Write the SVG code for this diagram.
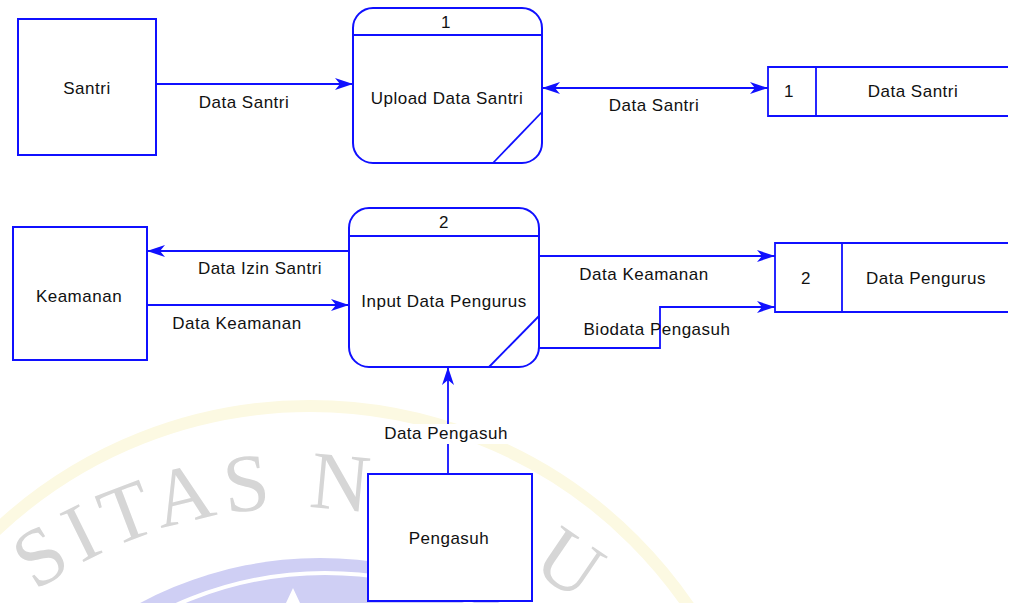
<svg xmlns="http://www.w3.org/2000/svg" width="1017" height="603" viewBox="0 0 1017 603">
<defs>
<style>
.box{fill:#fff;stroke:#1010ff;stroke-width:2}
.ln{fill:none;stroke:#1010ff;stroke-width:1.8}
.t{font-family:"Liberation Sans",Arial,sans-serif;font-size:17px;fill:#111;text-anchor:middle;dominant-baseline:central;letter-spacing:0.5px}
.wm{font-family:"Liberation Serif","Times New Roman",serif;font-size:82px;fill:#d6d6d6;letter-spacing:8px}
</style>
<marker id="ah" markerUnits="userSpaceOnUse" markerWidth="20" markerHeight="14" refX="18" refY="7" orient="auto-start-reverse" viewBox="0 0 20 14">
<path d="M0,1 L18,7 L0,13 L5,7 z" fill="#1010ff"/>
</marker>
<path id="arc" d="M 5.5 615 A 458 458 0 0 1 651 672"/>
</defs>
<rect width="1017" height="603" fill="#fff"/>
<g id="watermark">
<circle cx="310" cy="864" r="458" fill="none" stroke="#fcf9e2" stroke-width="12"/>
<circle cx="320" cy="940" r="382" fill="#cfcff4"/>
<circle cx="325" cy="935" r="362" fill="none" stroke="#fff" stroke-width="4"/>
<polygon points="293,588 300,603 286,603" fill="#fff"/>
<text class="wm"><textPath href="#arc" startOffset="38">SITAS N</textPath></text>
<text class="wm"><textPath href="#arc" startOffset="560">U</textPath></text>
</g>
<g id="connectors">
<line class="ln" x1="156" y1="84" x2="353" y2="84" marker-end="url(#ah)"/>
<text class="t" x="244" y="102">Data Santri</text>
<line class="ln" x1="542" y1="88" x2="768" y2="88" marker-start="url(#ah)" marker-end="url(#ah)"/>
<text class="t" x="654" y="105">Data Santri</text>
<line class="ln" x1="349" y1="251" x2="147" y2="251" marker-end="url(#ah)"/>
<text class="t" x="260" y="268">Data Izin Santri</text>
<line class="ln" x1="147" y1="305" x2="349" y2="305" marker-end="url(#ah)"/>
<text class="t" x="237" y="323">Data Keamanan</text>
<line class="ln" x1="539" y1="256" x2="775" y2="256" marker-end="url(#ah)"/>
<text class="t" x="644" y="274">Data Keamanan</text>
<polyline class="ln" points="539,348 660,348 660,307 775,307" marker-end="url(#ah)"/>
<text class="t" x="657" y="329">Biodata Pengasuh</text>
<line class="ln" x1="448" y1="474" x2="448" y2="367" marker-end="url(#ah)"/>
<rect x="380" y="424" width="134" height="20" fill="#fff"/>
<text class="t" x="446" y="433">Data Pengasuh</text>
</g>
<g id="santri">
<rect class="box" x="18" y="19" width="138" height="136"/>
<text class="t" x="87" y="88">Santri</text>
</g>
<g id="keamanan">
<rect class="box" x="13" y="227" width="134" height="133"/>
<text class="t" x="79" y="296">Keamanan</text>
</g>
<g id="pengasuh">
<rect class="box" x="368" y="474" width="164" height="127"/>
<text class="t" x="449" y="538">Pengasuh</text>
</g>
<g id="process1">
<rect class="box" x="353" y="8" width="189" height="155" rx="20" ry="20"/>
<line class="ln" x1="353" y1="35" x2="542" y2="35"/>
<line class="ln" x1="493" y1="163" x2="542" y2="112"/>
<text class="t" x="446" y="22">1</text>
<text class="t" x="447" y="98">Upload Data Santri</text>
</g>
<g id="process2">
<rect class="box" x="349" y="208" width="190" height="159" rx="20" ry="20"/>
<line class="ln" x1="349" y1="236" x2="539" y2="236"/>
<line class="ln" x1="489" y1="367" x2="539" y2="316"/>
<text class="t" x="444" y="222">2</text>
<text class="t" x="444" y="301">Input Data Pengurus</text>
</g>
<g id="store1">
<rect x="768" y="67" width="240" height="49" fill="#fff"/>
<path class="ln" d="M1008,67 H768 V116 H1008 M816,67 V116" stroke-width="2"/>
<text class="t" x="789" y="91">1</text>
<text class="t" x="913" y="91">Data Santri</text>
</g>
<g id="store2">
<rect x="775" y="243" width="233" height="69" fill="#fff"/>
<path class="ln" d="M1008,243 H775 V312 H1008 M842,243 V312" stroke-width="2"/>
<text class="t" x="806" y="278">2</text>
<text class="t" x="926" y="278">Data Pengurus</text>
</g>
</svg>
